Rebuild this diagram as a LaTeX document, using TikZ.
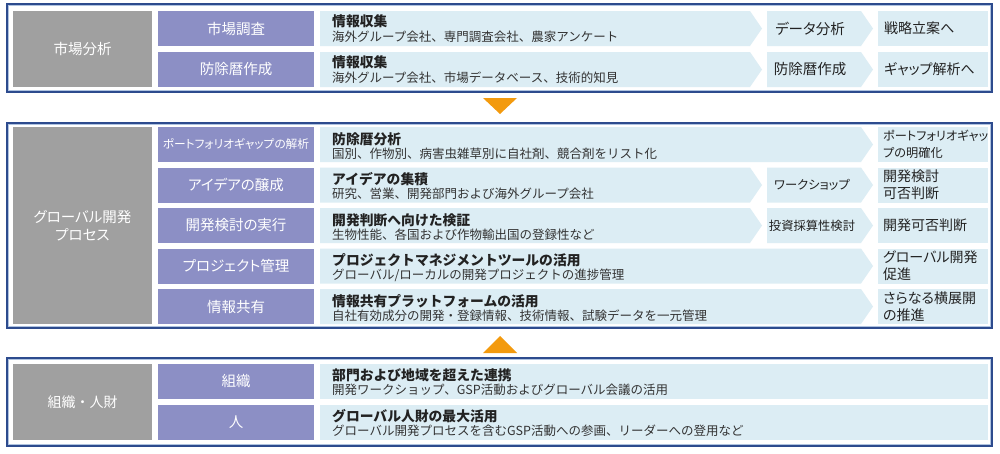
\documentclass[tikz,border=0pt]{standalone}
\usepackage{fontspec}
\setmainfont{Noto Sans CJK JP}
\newfontfamily\jpprop{Noto Sans CJK JP}[RawFeature=+palt]
\definecolor{frnavy}{HTML}{2D4B8E}
\definecolor{frlight}{HTML}{AFC3E0}
\definecolor{gbox}{HTML}{A0A0A0}
\definecolor{pbox}{HTML}{8C8FC5}
\definecolor{lbox}{HTML}{DCEDF4}
\definecolor{orng}{HTML}{F39A0E}
\definecolor{txt}{HTML}{222222}
\definecolor{subtxt}{HTML}{333333}
\newcommand\chevshape[3]{\fill[lbox] (#1,#3) -- (#2,#3) -- ({#2+12},{#3+17.5}) -- (#2,{#3+35}) -- (#1,{#3+35}) -- cycle;}
\newcommand\frameshape[4]{%
  \fill[white] (#1,#2) rectangle (#3,#4);
  \draw[frnavy,line width=1.6pt] (#1,#2) rectangle (#3,#4);
  \draw[frlight,line width=0.9pt] ({#1+1.6},{#2+1.6}) rectangle ({#3-1.6},{#4-1.6});}
\begin{document}
\begin{tikzpicture}[x=1pt,y=-1pt,
  wt/.style={inner sep=0pt,text=white,font=\jpprop\fontsize{14.5}{18}\selectfont,align=center},
  wtf/.style={inner sep=0pt,text=white,font=\fontsize{14}{18}\selectfont,align=center},
  wts/.style={inner sep=0pt,text=white,font=\jpprop\fontsize{11.7}{14}\selectfont},
  hd/.style={inner sep=0pt,anchor=west,text=txt,font=\fontsize{13.8}{16}\selectfont\bfseries},
  sb/.style={inner sep=0pt,anchor=west,text=subtxt,font=\fontsize{12.5}{14}\selectfont},
  mt/.style={inner sep=0pt,text=txt,font=\jpprop\fontsize{14.5}{16}\selectfont},
  mts/.style={inner sep=0pt,text=txt,font=\jpprop\fontsize{12.3}{14}\selectfont},
  rt/.style={inner sep=0pt,anchor=west,text=txt,align=left,font=\jpprop\fontsize{14}{17}\selectfont},
  rts/.style={inner sep=0pt,anchor=west,text=txt,align=left,font=\jpprop\fontsize{12.2}{17}\selectfont},
  tri/.style={fill=orng}]
\useasboundingbox (0,0) rectangle (1000,453);
\fill[white] (0,0) rectangle (1000,453);

% ---------- top section ----------
\frameshape{7}{4}{992}{92}
\fill[gbox] (13,11) rectangle (152,87);
\fill[pbox] (158,11) rectangle (314,46);
\fill[pbox] (158,52) rectangle (314,87);
\chevshape{320}{750}{11}
\chevshape{767}{861}{11}
\fill[lbox] (878,11) rectangle (988,46);
\chevshape{320}{750}{52}
\chevshape{767}{861}{52}
\fill[lbox] (878,52) rectangle (988,87);

\node[wt] (ma) at (82.5,49) {市場分析};
\node[wt] (ma1) at (236,28.5) {市場調査};
\node[wt] (ma2) at (236,69.5) {防除暦作成};
\node[hd] (mah1) at (332,21.5) {情報収集};
\node[sb] (mas1) at (332,36.5) {海外グループ会社、専門調査会社、農家アンケート};
\node[hd] (mah2) at (332,62.5) {情報収集};
\node[sb] (mas2) at (332,77.5) {海外グループ会社、市場データベース、技術的知見};
\node[mt] (mam1) at (810,28.5) {データ分析};
\node[mt] (mam2) at (810,69.5) {防除暦作成};
\node[rt] (mar1) at (884,28.5) {戦略立案へ};
\node[rt] (mar2) at (884,69.5) {ギャップ解析へ};

\fill[tri] (483,98) -- (517,98) -- (500,114) -- cycle;

% ---------- middle section ----------
\frameshape{7}{123}{992}{328}
\fill[gbox] (13,127) rectangle (152,324);
\foreach \t in {127,167.5,208,248.5,289}{
  \fill[pbox] (158,\t) rectangle (314,{\t+35});
  \fill[lbox] (878,\t) rectangle (988,{\t+35});
}
\chevshape{320}{861}{127}
\chevshape{320}{750}{167.5}
\chevshape{767}{861}{167.5}
\chevshape{320}{750}{208}
\chevshape{767}{861}{208}
\chevshape{320}{861}{248.5}
\chevshape{320}{861}{289}

\node[wt] (gp) at (82.5,226) {グローバル開発\\プロセス};
\node[wts] (gp1) at (236,144.5) {ポートフォリオギャップの解析};
\node[wt] (gp2) at (236,185) {アイデアの醸成};
\node[wt] (gp3) at (236,225.5) {開発検討の実行};
\node[wt] (gp4) at (236,266) {プロジェクト管理};
\node[wt] (gp5) at (236,306.5) {情報共有};

\node[hd] (gph1) at (332,139) {防除暦分析};
\node[sb] (gps1) at (332,153.5) {国別、作物別、病害虫雑草別に自社剤、競合剤をリスト化};
\node[hd] (gph2) at (332,179.5) {アイデアの集積};
\node[sb] (gps2) at (332,194) {研究、営業、開発部門および海外グループ会社};
\node[hd] (gph3) at (332,220) {開発判断へ向けた検証};
\node[sb] (gps3) at (332,234.5) {生物性能、各国および作物輸出国の登録性など};
\node[hd] (gph4) at (332,260.5) {プロジェクトマネジメントツールの活用};
\node[sb] (gps4) at (332,275) {グローバル/ローカルの開発プロジェクトの進捗管理};
\node[hd] (gph5) at (332,301) {情報共有プラットフォームの活用};
\node[sb] (gps5) at (332,315.5) {自社有効成分の開発・登録情報、技術情報、試験データを一元管理};

\node[mts] (gpm2) at (812,185) {ワークショップ};
\node[mts] (gpm3) at (812,225.5) {投資採算性検討};

\node[rts] (gpr1) at (883,144.5) {ポートフォリオギャッ\\プの明確化};
\node[rt] (gpr2) at (883,185) {開発検討\\可否判断};
\node[rt] (gpr3) at (883,225.5) {開発可否判断};
\node[rt] (gpr4) at (883,266) {グローバル開発\\促進};
\node[rt] (gpr5) at (883,306.5) {さらなる横展開\\の推進};

\fill[tri] (483,353) -- (517,353) -- (500,336) -- cycle;

% ---------- bottom section ----------
\frameshape{7}{358}{992}{446}
\fill[gbox] (13,364) rectangle (152,440);
\fill[pbox] (158,364) rectangle (314,399);
\fill[pbox] (158,405) rectangle (314,440);
\fill[lbox] (320,364) rectangle (988,399);
\fill[lbox] (320,405) rectangle (988,440);

\node[wtf] (oz) at (82.5,402) {組織・人財};
\node[wt] (oz1) at (236,381.5) {組織};
\node[wt] (oz2) at (236,422.5) {人};
\node[hd] (ozh1) at (332,375.5) {部門および地域を超えた連携};
\node[sb] (ozs1) at (332,390) {開発ワークショップ、GSP活動およびグローバル会議の活用};
\node[hd] (ozh2) at (332,416.5) {グローバル人財の最大活用};
\node[sb] (ozs2) at (332,431) {グローバル開発プロセスを含むGSP活動への参画、リーダーへの登用など};
\end{tikzpicture}
\end{document}
